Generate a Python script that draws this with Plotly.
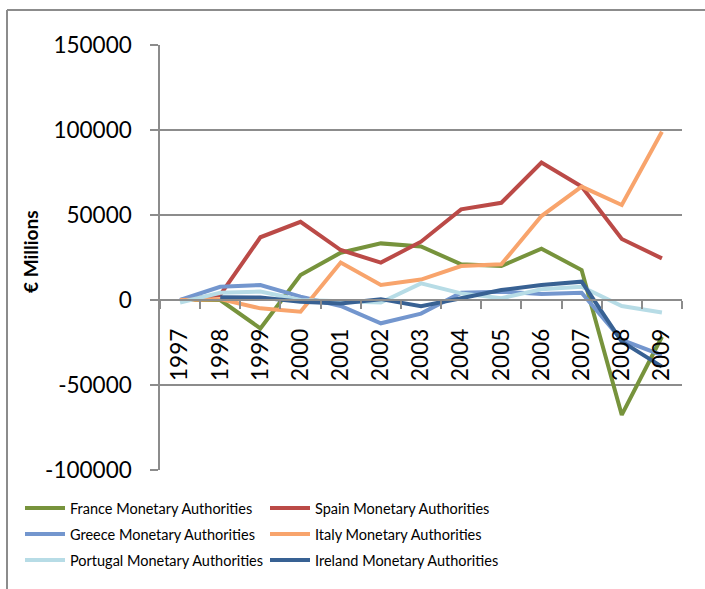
import plotly.graph_objects as go

# Net positions of euro-area monetary authorities, € millions
years = ["1997", "1998", "1999", "2000", "2001", "2002", "2003",
         "2004", "2005", "2006", "2007", "2008", "2009"]

france = [0, 0, -16700, 14700, 27800, 33300, 31500, 21000, 20000, 30200, 17600, -67600, -21600]
spain = [0, 3000, 36900, 46000, 29400, 22000, 34300, 53300, 57200, 80800, 66700, 35900, 24500]
greece = [0, 7800, 8800, 2000, -3500, -13700, -8000, 4300, 4900, 3500, 4300, -23500, -32400]
italy = [0, 500, -4900, -6900, 22000, 8800, 12000, 20000, 21000, 49400, 66700, 55900, 99000]
portugal = [-1500, 4300, 5000, 0, -800, -1500, 9800, 3900, 1000, 6300, 7800, -3500, -7400]
ireland = [None, 1600, 1500, -1000, -2000, 500, -3700, 1000, 5900, 8800, 10800, -24500, -39200]

# (name, values, colour, legend row)
series = [
    ("France Monetary Authorities", france, "#77933C", "legend"),
    ("Spain Monetary Authorities", spain, "#BB4A47", "legend"),
    ("Greece Monetary Authorities", greece, "#7396CE", "legend2"),
    ("Italy Monetary Authorities", italy, "#F8A46C", "legend2"),
    ("Portugal Monetary Authorities", portugal, "#B7DCE6", "legend3"),
    ("Ireland Monetary Authorities", ireland, "#386193", "legend3"),
]

y_ticks = [-100000, -50000, 0, 50000, 100000, 150000]
y_tick_text = ["-100000", "-50000", "0", "50000", "100000", "150000"]

W, H = 705, 589
ML, MR, MT, MB = 160, 23, 45, 119
PW, PH = W - ML - MR, H - MT - MB

font_family = "Lato, 'Open Sans', sans-serif"
grid = "#8C8C8C"

fig = go.Figure()
for name, vals, color, leg in series:
    fig.add_trace(go.Scatter(
        x=years, y=vals, name=name, mode="lines",
        line=dict(color=color, width=4),
        connectgaps=False, legend=leg,
    ))

ymin, ymax = -100000, 150000
zero_pos = (0 - ymin) / (ymax - ymin)


def legend_row(center_px):
    return dict(
        orientation="h",
        x=(20 - ML) / PW, xanchor="left",
        y=(MT + PH - center_px) / PH, yanchor="middle",
        entrywidth=190, entrywidthmode="pixels",
        itemwidth=40,
        font=dict(size=14.5, family=font_family),
        bgcolor="rgba(0,0,0,0)",
    )


fig.update_layout(
    width=W, height=H,
    margin=dict(l=ML, r=MR, t=MT, b=MB),
    paper_bgcolor="white", plot_bgcolor="white",
    font=dict(family=font_family, color="black"),
    xaxis=dict(
        type="category",
        range=[-0.5, len(years) - 0.5],
        anchor="free", position=zero_pos,
        showline=True, linecolor=grid, linewidth=1.5,
        showgrid=False, zeroline=False,
        ticks="outside", ticklen=8, tickcolor=grid, tickwidth=1.5,
        tickson="boundaries",
        tickangle=-90,
        ticklabelstandoff=19,
        tickfont=dict(size=22.5, family=font_family),
    ),
    yaxis=dict(
        range=[ymin, ymax],
        tickvals=y_ticks, ticktext=y_tick_text,
        showline=True, linecolor=grid, linewidth=1.5,
        showgrid=True, gridcolor=grid, gridwidth=1.5,
        zeroline=False,
        ticks="outside", ticklen=8, tickcolor=grid, tickwidth=1.5,
        ticklabelstandoff=14,
        tickfont=dict(size=22.5, family=font_family),
    ),
    showlegend=True,
    legend=legend_row(508),
    legend2=legend_row(534),
    legend3=legend_row(560),
    annotations=[dict(
        text="<b>€ Millions</b>",
        xref="paper", yref="paper",
        x=(30 - ML) / PW, y=(MT + PH - 252) / PH,
        textangle=-90, showarrow=False,
        font=dict(size=19, family=font_family),
        xanchor="center", yanchor="middle",
    )],
    shapes=[
        dict(type="line", xref="paper", yref="paper",
             x0=(7 - ML) / PW, x1=(720 - ML) / PW,
             y0=(MT + PH - 10) / PH, y1=(MT + PH - 10) / PH,
             line=dict(color="#8C8C8C", width=2)),
        dict(type="line", xref="paper", yref="paper",
             x0=(7 - ML) / PW, x1=(7 - ML) / PW,
             y0=(MT + PH - 10) / PH, y1=(MT + PH - 620) / PH,
             line=dict(color="#8C8C8C", width=2)),
    ],
)

fig.write_html("out.html")
